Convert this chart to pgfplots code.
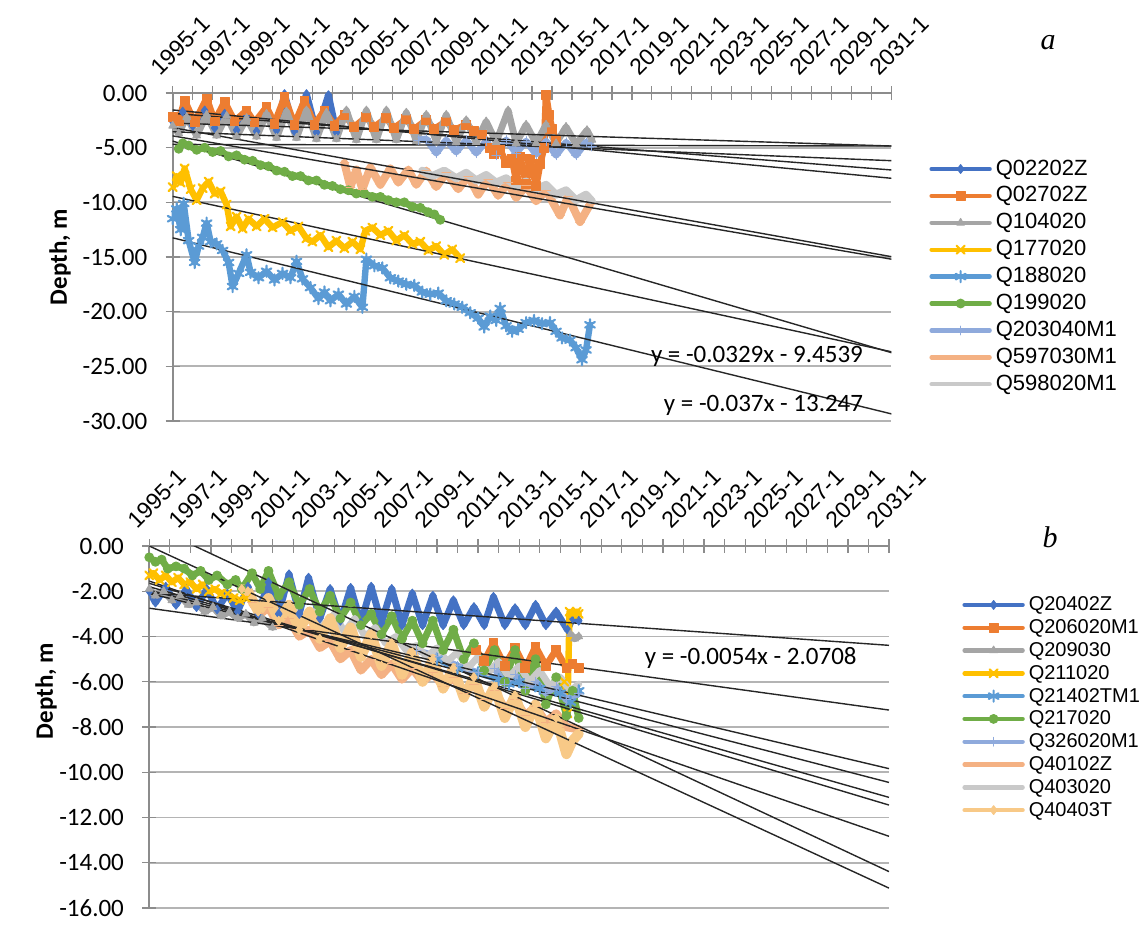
\documentclass[border=0pt]{standalone}
\usepackage{pgfplots}
\pgfplotsset{compat=1.18}
\usepackage{fontspec}
\setmainfont{Carlito}
\newfontfamily\arial{Liberation Sans}
\newfontfamily\serifit{Liberation Serif}
\definecolor{axgray}{HTML}{8C8C8C}
\definecolor{gridgray}{HTML}{B4B4B4}
\definecolor{s1}{HTML}{4472C4}
\definecolor{s2}{HTML}{ED7D31}
\definecolor{s3}{HTML}{A5A5A5}
\definecolor{s4}{HTML}{FFC000}
\definecolor{s5}{HTML}{5B9BD5}
\definecolor{s6}{HTML}{70AD47}
\definecolor{s7}{HTML}{8FAADC}
\definecolor{s8}{HTML}{F4B183}
\definecolor{s9}{HTML}{C9C9C9}
\definecolor{s10}{HTML}{F8C987}
\pgfplotsset{
  excel/.style={
    scale only axis,
    xmin=1995, xmax=2031,
    axis x line*=top, axis y line*=left,
    axis line style={draw=axgray, line width=0.8pt},
    xtick={1995,1997,...,2031},
    minor xtick={1996,1998,...,2030},
    xticklabels={1995-1,1997-1,1999-1,2001-1,2003-1,2005-1,2007-1,2009-1,2011-1,2013-1,2015-1,2017-1,2019-1,2021-1,2023-1,2025-1,2027-1,2029-1,2031-1},
    tick align=center,
    major tick length=7pt, minor tick length=7pt,
    tick style={draw=axgray, line width=0.6pt},
    ymajorgrids,
    major grid style={draw=gridgray, line width=0.9pt},
    /pgf/number format/assume math mode=true,
    xticklabel style={font=\arial\fontsize{11.5}{13}\selectfont, rotate=45, anchor=south west, inner sep=0pt, text depth=0pt, xshift=-1pt, yshift=7.5pt},
    yticklabel style={font=\fontsize{12.5}{15}\selectfont, anchor=east, inner sep=0pt, xshift=-9pt, /pgf/number format/.cd, fixed, fixed zerofill, precision=2},
    ylabel={Depth, m},
    ylabel style={font=\bfseries\fontsize{12.5}{15}\selectfont},
    unbounded coords=jump,
    legend cell align=left,
    legend image code/.code={\draw[line width=2.2pt, mark repeat=2, mark phase=2] plot coordinates {(0pt,0pt) (14.5pt,0pt) (29pt,0pt)};},
  },
  ser/.style={line width=3.4pt, line join=round, line cap=round, mark size=2.2pt, mark options={solid, line width=0.5pt}},
  serx/.style={line width=3.2pt, line join=round, line cap=round, mark size=2.8pt, mark options={solid, line width=1.1pt}},
  tr/.style={black!85, line width=0.7pt, forget plot, no marks},
}
\begin{document}
\begin{tikzpicture}
\useasboundingbox (0,0) rectangle (573.5pt,-463.5pt);
% ---------------- panel a ----------------
\begin{axis}[excel,
  at={(86.35pt,-210.5pt)}, anchor=south west,
  width=359.4pt, height=164pt,
  ymin=-30, ymax=0, ytick={-30,-25,-20,-15,-10,-5,0},
  ylabel style={at={(axis description cs:-0.1568,0.5)}, anchor=center},
  legend style={at={(axis description cs:1.0522,0.803)}, anchor=north west, draw=none, fill=none, inner sep=0pt, column sep=2pt,
    font=\arial\fontsize{11}{13}\selectfont, row sep=2.45pt, nodes={inner sep=0pt, text height=8.5pt, text depth=2.5pt}},
]
\addplot[ser, s1, mark=diamond*] coordinates {(1995.0,-2.6) (1995.5,-1.7) (1996.0,-3.0) (1996.6,-1.6) (1997.1,-3.2) (1997.6,-1.9) (1998.2,-3.4) (1998.7,-2.0) (1999.2,-3.5) (1999.7,-1.6) (2000.2,-3.4) (2000.6,-0.1) (2001.1,-3.5) (2001.7,-0.1) (2002.2,-3.6) (2002.8,-0.2) (2003.2,-3.6)};
\addlegendentry{Q02202Z}
\addplot[ser, s2, mark=square*] coordinates {(1995.0,-2.2) (1995.3,-2.6) (1995.6,-0.7) (1996.1,-2.7) (1996.7,-0.5) (1997.1,-2.6) (1997.6,-0.8) (1998.1,-2.6) (1998.7,-1.6) (1999.1,-2.7) (1999.7,-1.3) (2000.1,-2.8) (2000.6,-0.4) (2001.1,-2.9) (2001.6,-0.7) (2002.1,-2.9) (2002.6,-1.6) (2003.1,-3.0) (2003.6,-2.0) (2004.1,-3.1) (2004.7,-2.2) (2005.1,-3.1) (2005.7,-2.3) (2006.1,-3.2) (2006.7,-2.4) (2007.1,-3.3) (2007.7,-2.5) (2008.1,-3.3) (2008.7,-2.6) (2009.1,-3.4) (2009.7,-2.9) (2010.1,-3.5) (2010.5,-3.8) (2010.9,-5.0) (2011.1,-5.6) (2011.4,-5.2) (2011.7,-6.4) (2012.0,-6.0) (2012.2,-8.0) (2012.4,-5.8) (2012.7,-8.3) (2012.9,-6.0) (2013.2,-8.5) (2013.4,-6.5) (2013.6,-5.0) (2013.7,-0.2) (2013.85,-2.0) (2014.0,-3.3) (2014.2,-4.4)};
\addlegendentry{Q02702Z}
\addplot[ser, s3, mark=triangle*] coordinates {(1995.0,-3.0) (1995.3,-3.7) (1995.7,-2.2) (1996.2,-3.9) (1996.7,-2.0) (1997.2,-3.9) (1997.7,-2.1) (1998.2,-4.0) (1998.7,-2.3) (1999.2,-4.0) (1999.7,-1.9) (2000.2,-4.1) (2000.7,-1.7) (2001.2,-4.1) (2001.7,-1.6) (2002.2,-4.2) (2002.7,-1.8) (2003.2,-4.2) (2003.7,-1.6) (2004.2,-4.3) (2004.7,-1.6) (2005.2,-4.3) (2005.7,-1.6) (2006.2,-4.3) (2006.7,-1.8) (2007.2,-4.4) (2007.7,-2.0) (2008.2,-4.4) (2008.7,-2.0) (2009.2,-4.5) (2009.7,-2.5) (2010.2,-4.5) (2010.7,-2.6) (2011.2,-4.5) (2011.8,-1.6) (2012.2,-4.6) (2012.7,-2.9) (2013.2,-4.6) (2013.7,-2.9) (2014.2,-4.6) (2014.7,-3.1) (2015.2,-4.7) (2015.75,-3.4) (2016.0,-4.3)};
\addlegendentry{Q104020}
\addplot[serx, s4, mark=x] coordinates {(1995.0,-8.6) (1995.2,-7.6) (1995.4,-8.2) (1995.6,-6.9) (1995.9,-8.8) (1996.2,-9.8) (1996.5,-8.7) (1996.8,-8.1) (1997.1,-9.2) (1997.4,-9.0) (1997.7,-10.2) (1997.9,-12.2) (1998.2,-11.3) (1998.5,-12.4) (1998.8,-11.5) (1999.2,-12.2) (1999.6,-11.5) (2000.0,-12.3) (2000.5,-11.8) (2000.9,-12.6) (2001.3,-12.2) (2001.7,-13.3) (2002.0,-13.6) (2002.4,-13.0) (2002.8,-14.1) (2003.2,-13.5) (2003.6,-14.2) (2004.0,-13.6) (2004.4,-14.3) (2004.65,-12.6) (2005.0,-12.3) (2005.4,-13.0) (2005.8,-12.6) (2006.2,-13.5) (2006.6,-13.0) (2007.0,-13.8) (2007.4,-13.6) (2007.8,-14.4) (2008.2,-14.0) (2008.6,-14.8) (2009.0,-14.3) (2009.4,-15.1)};
\addlegendentry{Q177020}
\addplot[serx, s5, mark=asterisk] coordinates {(1995.0,-11.5) (1995.2,-10.6) (1995.4,-12.5) (1995.55,-10.1) (1995.8,-13.5) (1996.1,-15.5) (1996.3,-14.0) (1996.5,-13.2) (1996.7,-11.9) (1996.9,-13.6) (1997.2,-13.8) (1997.5,-14.4) (1997.8,-15.5) (1998.0,-17.7) (1998.3,-16.5) (1998.7,-14.8) (1998.9,-16.4) (1999.3,-16.9) (1999.7,-16.3) (2000.1,-17.1) (2000.5,-16.5) (2000.9,-16.9) (2001.2,-15.4) (2001.5,-17.0) (2001.9,-17.8) (2002.3,-18.8) (2002.6,-18.2) (2002.9,-19.0) (2003.3,-18.4) (2003.7,-19.3) (2004.1,-18.6) (2004.5,-19.6) (2004.7,-15.2) (2005.1,-15.8) (2005.5,-16.0) (2005.9,-16.9) (2006.3,-17.2) (2006.7,-17.5) (2007.1,-17.6) (2007.5,-18.2) (2007.9,-18.4) (2008.3,-18.3) (2008.7,-19.0) (2009.1,-19.3) (2009.5,-19.6) (2009.9,-20.1) (2010.3,-20.6) (2010.6,-21.4) (2010.9,-20.4) (2011.2,-20.8) (2011.4,-19.7) (2011.7,-21.3) (2012.0,-21.8) (2012.3,-21.6) (2012.7,-21.0) (2013.1,-20.8) (2013.5,-21.1) (2013.9,-21.0) (2014.2,-21.8) (2014.5,-22.4) (2014.9,-22.6) (2015.2,-23.3) (2015.5,-24.4) (2015.7,-23.5) (2015.9,-21.2)};
\addlegendentry{Q188020}
\addplot[ser, s6, mark=*] coordinates {(1995.3,-5.1) (1995.5,-4.6) (1995.8,-4.8) (1996.2,-5.2) (1996.6,-5.0) (1997.0,-5.4) (1997.4,-5.3) (1997.8,-5.8) (1998.2,-5.7) (1998.6,-6.1) (1999.0,-6.2) (1999.4,-6.6) (1999.8,-6.7) (2000.2,-7.1) (2000.6,-7.2) (2001.0,-7.6) (2001.4,-7.6) (2001.8,-8.0) (2002.2,-8.0) (2002.6,-8.4) (2003.0,-8.5) (2003.4,-8.8) (2003.8,-8.9) (2004.2,-9.2) (2004.6,-9.2) (2005.0,-9.5) (2005.4,-9.5) (2005.8,-9.8) (2006.2,-10.0) (2006.6,-10.0) (2007.0,-10.4) (2007.4,-10.5) (2007.8,-10.9) (2008.1,-11.1) (2008.4,-11.6)};
\addlegendentry{Q199020}
\addplot[ser, s7, mark=+] coordinates {(2007.3,-4.3) (2007.7,-4.2) (2008.2,-5.5) (2008.7,-4.3) (2009.2,-5.4) (2009.7,-4.3) (2010.2,-5.5) (2010.7,-4.4) (2011.2,-5.7) (2011.7,-4.3) (2012.2,-5.5) (2012.7,-4.4) (2013.2,-5.6) (2013.7,-4.4) (2014.2,-5.7) (2014.7,-4.5) (2015.2,-5.7) (2015.7,-4.5) (2016.0,-4.9)};
\addlegendentry{Q203040M1}
\addplot[ser, s8, mark=-, line width=4pt] coordinates {(2003.6,-6.4) (2003.9,-8.6) (2004.2,-7.0) (2004.5,-8.8) (2004.9,-6.8) (2005.4,-8.4) (2005.9,-6.9) (2006.3,-8.2) (2006.8,-7.0) (2007.2,-8.4) (2007.7,-7.1) (2008.2,-8.6) (2008.7,-7.3) (2009.3,-8.8) (2009.8,-7.6) (2010.3,-9.3) (2010.8,-7.9) (2011.3,-9.4) (2011.8,-8.2) (2012.2,-9.6) (2012.7,-8.5) (2013.2,-9.9) (2013.7,-8.9) (2014.4,-11.2) (2014.8,-9.5) (2015.4,-11.8) (2015.9,-10.2)};
\addlegendentry{Q597030M1}
\addplot[ser, s9, no marks, line width=4pt] coordinates {(2007.5,-7.1) (2008.0,-7.6) (2008.6,-7.1) (2009.2,-7.8) (2009.7,-7.3) (2010.2,-8.0) (2010.7,-7.5) (2011.2,-8.2) (2011.7,-7.8) (2012.2,-8.5) (2012.7,-8.1) (2013.2,-8.8) (2013.7,-8.4) (2014.2,-9.3) (2014.7,-8.9) (2015.2,-9.8) (2015.7,-9.3) (2016.0,-9.9)};
\addlegendentry{Q598020M1}
% trend lines
\addplot[tr] coordinates {(1995,-1.55) (2031,-7.8)};
\addplot[tr] coordinates {(1995,-1.86) (2031,-7.04)};
\addplot[tr] coordinates {(1995,-2.75) (2031,-4.85)};
\addplot[tr] coordinates {(1995,-3.17) (2031,-14.97)};
\addplot[tr] coordinates {(1995,-3.54) (2031,-6.19)};
\addplot[tr] coordinates {(1995,-3.92) (2031,-15.2)};
\addplot[tr] coordinates {(1995,-4.4) (2031,-23.75)};
\addplot[tr] coordinates {(1995,-4.7) (2031,-4.85)};
\addplot[tr] coordinates {(1995,-9.4539) (2031,-23.67)};
\addplot[tr] coordinates {(1995,-13.247) (2031,-29.35)};
\node[font=\fontsize{12.5}{15}\selectfont, anchor=base, inner sep=0pt] at (axis cs:2024.26,-24.66) {y = -0.0329x - 9.4539};
\node[font=\fontsize{12.5}{15}\selectfont, anchor=base, inner sep=0pt] at (axis cs:2024.59,-29.1) {y = -0.037x - 13.247};
\end{axis}
% ---------------- panel b ----------------
\begin{axis}[excel,
  at={(74.65pt,-454pt)}, anchor=south west,
  width=369.85pt, height=181pt,
  ymin=-16, ymax=0, ytick={-16,-14,-12,-10,-8,-6,-4,-2,0},
  ylabel style={at={(axis description cs:-0.1397,0.5994)}, anchor=center},
  legend style={at={(axis description cs:1.0987,0.866)}, anchor=north west, draw=none, fill=none, inner sep=0pt, column sep=2pt,
    font=\arial\fontsize{10}{12}\selectfont, row sep=1.4pt, nodes={inner sep=0pt, text height=8pt, text depth=2pt}},
]
\addplot[ser, s1, mark=diamond*] coordinates {(1995.0,-2.0) (1995.3,-2.5) (1995.8,-1.8) (1996.3,-2.6) (1996.8,-1.9) (1997.3,-2.7) (1997.8,-1.9) (1998.3,-2.8) (1998.8,-2.1) (1999.3,-2.9) (1999.8,-1.8) (2000.3,-3.0) (2000.8,-1.6) (2001.3,-3.0) (2001.8,-1.25) (2002.3,-3.0) (2002.75,-1.4) (2003.3,-3.2) (2003.8,-1.9) (2004.3,-3.3) (2004.8,-1.85) (2005.3,-3.4) (2005.8,-1.8) (2006.3,-3.4) (2006.8,-1.9) (2007.3,-3.5) (2007.8,-2.1) (2008.3,-3.5) (2008.8,-2.2) (2009.3,-3.5) (2009.8,-2.4) (2010.3,-3.5) (2010.8,-2.7) (2011.3,-3.5) (2011.75,-2.25) (2012.3,-3.5) (2012.8,-2.75) (2013.3,-3.5) (2013.8,-2.6) (2014.3,-3.5) (2014.8,-2.9) (2015.35,-3.7) (2015.6,-3.2) (2015.9,-3.3)};
\addlegendentry{Q20402Z}
\addplot[ser, s2, mark=square*] coordinates {(2010.9,-4.6) (2011.3,-5.1) (2011.75,-4.3) (2012.3,-5.3) (2012.8,-4.5) (2013.3,-5.4) (2013.8,-4.45) (2014.3,-5.3) (2014.8,-4.6) (2015.3,-5.4) (2015.6,-5.2) (2015.9,-5.4)};
\addlegendentry{Q206020M1}
\addplot[ser, s3, mark=triangle*] coordinates {(1995.0,-1.9) (1995.3,-2.2) (1995.7,-2.0) (1996.1,-2.4) (1996.5,-2.2) (1996.9,-2.6) (1997.3,-2.5) (1997.7,-2.9) (1998.1,-2.7) (1998.5,-3.1) (1998.9,-2.9) (1999.3,-3.2) (1999.7,-3.0) (2000.1,-3.4) (2000.5,-3.2) (2001.0,-3.6) (2001.5,nan) (2015.5,-3.9) (2015.7,-4.1) (2015.9,-4.0)};
\addlegendentry{Q209030}
\addplot[serx, s4, mark=x] coordinates {(1995.0,-1.3) (1995.2,-1.2) (1995.5,-1.5) (1995.8,-1.3) (1996.1,-1.6) (1996.4,-1.4) (1996.7,-1.7) (1997.0,-1.6) (1997.3,-1.9) (1997.6,-1.7) (1997.9,-2.0) (1998.2,-1.9) (1998.5,-2.1) (1998.8,-2.1) (1999.1,-2.3) (1999.4,-2.4) (1999.7,-2.3) (2000.0,nan) (2015.2,-6.0) (2015.35,-7.4) (2015.45,-2.9) (2015.6,-3.0) (2015.8,-2.9) (2015.9,-3.0)};
\addlegendentry{Q211020}
\addplot[serx, s5, mark=asterisk] coordinates {(2009.0,-5.0) (2010.0,-5.4) (2011.0,-5.6) (2012.0,-5.9) (2012.5,-6.1) (2013.0,-6.0) (2014.0,-6.3) (2015.0,-6.5) (2015.5,-6.9) (2015.9,-6.4)};
\addlegendentry{Q21402TM1}
\addplot[ser, s6, mark=*] coordinates {(1995.0,-0.5) (1995.3,-0.7) (1995.6,-0.6) (1995.9,-1.0) (1996.3,-0.9) (1996.7,-1.0) (1997.1,-1.3) (1997.5,-1.1) (1997.9,-1.5) (1998.3,-1.3) (1998.8,-1.7) (1999.2,-1.5) (1999.5,-1.9) (2000.0,-1.2) (2000.4,-1.9) (2000.8,-1.1) (2001.3,-2.2) (2001.8,-1.6) (2002.3,-2.6) (2002.8,-1.9) (2003.3,-2.9) (2003.8,-2.2) (2004.3,-3.2) (2004.8,-2.5) (2005.3,-3.5) (2005.8,-3.0) (2006.3,-3.9) (2006.8,-3.1) (2007.3,-4.1) (2007.8,-3.3) (2008.3,-4.3) (2008.8,-3.3) (2009.3,-4.6) (2009.8,-3.7) (2010.3,-5.0) (2010.8,-4.3) (2011.3,-5.5) (2011.8,-4.6) (2012.3,-6.0) (2012.8,-4.6) (2013.3,-6.4) (2013.8,-5.0) (2014.3,-7.0) (2014.8,-5.8) (2015.3,-7.5) (2015.6,-6.4) (2015.9,-7.6)};
\addlegendentry{Q217020}
\addplot[ser, s7, mark=+] coordinates {(2008.0,-4.6) (2009.0,-4.9) (2010.0,-5.3) (2011.0,-5.6) (2011.8,-5.4) (2012.3,-6.1) (2012.8,-5.7) (2013.3,-6.3) (2013.8,-6.0) (2014.3,-6.5) (2014.8,-6.2) (2015.3,-6.8) (2015.9,-6.5)};
\addlegendentry{Q326020M1}
\addplot[ser, s8, mark=-, line width=4.2pt] coordinates {(2000.0,-2.5) (2000.4,-3.0) (2000.8,-2.7) (2001.3,-3.5) (2001.8,-3.2) (2002.3,-4.0) (2002.8,-3.7) (2003.3,-4.5) (2003.8,-4.2) (2004.3,-5.0) (2004.8,-4.6) (2005.3,-5.5) (2005.8,-5.0) (2006.3,-5.7) (2006.8,-5.2) (2007.3,-5.9) (2007.8,-5.4) (2008.3,-6.0) (2008.8,-5.6) (2009.3,-6.2) (2009.8,-5.8) (2010.3,-6.5) (2010.8,-6.1) (2011.3,-6.8) (2011.8,-6.4) (2012.3,-7.2) (2012.8,-6.8) (2013.3,-7.5) (2013.8,-7.1) (2014.3,-7.8) (2014.8,-7.4) (2015.3,-8.0) (2015.9,-8.1)};
\addlegendentry{Q40102Z}
\addplot[ser, s9, no marks] coordinates {(2002.0,-2.8) (2002.5,-3.3) (2003.0,-2.9) (2003.5,-3.6) (2004.0,-3.0) (2004.5,-3.8) (2005.0,-3.2) (2005.5,-4.0) (2006.0,-3.6) (2006.5,-4.3) (2007.0,-4.0) (2007.5,-4.6) (2008.0,-4.4) (2008.5,-4.9) (2009.0,-4.5) (2009.5,-5.1) (2010.0,-4.7) (2010.5,-5.4) (2011.0,-4.9) (2011.5,-5.6) (2012.0,-5.1) (2012.5,-5.8) (2013.0,-5.3) (2013.5,-6.0) (2014.0,-5.5) (2014.5,-6.2) (2015.0,-5.8) (2015.5,-6.4) (2015.9,-6.1)};
\addlegendentry{Q403020}
\addplot[ser, s10, mark=diamond*, line width=5pt] coordinates {(1999.5,-1.9) (1999.8,-2.0) (2000.3,-2.9) (2000.8,-2.3) (2001.3,-3.3) (2001.8,-2.6) (2002.3,-3.7) (2002.8,-2.9) (2003.3,-4.1) (2003.8,-3.2) (2004.3,-4.5) (2004.8,-3.6) (2005.3,-4.9) (2005.8,-3.9) (2006.3,-5.3) (2006.8,-4.3) (2007.3,-5.7) (2007.8,-4.7) (2008.3,-6.0) (2008.8,-5.0) (2009.3,-6.3) (2009.8,-5.4) (2010.3,-6.7) (2010.8,-5.8) (2011.3,-7.1) (2011.8,-6.2) (2012.3,-7.6) (2012.8,-6.6) (2013.3,-8.0) (2013.8,-7.0) (2014.3,-8.5) (2014.8,-7.6) (2015.3,-9.2) (2015.6,-8.6) (2015.9,-8.3)};
\addlegendentry{Q40403T}
% trend lines
\addplot[tr] coordinates {(1995,0.94) (2031,-14.39)};
\addplot[tr] coordinates {(1995,0.0) (2031,-15.12)};
\addplot[tr] coordinates {(1995,-1.55) (2031,-12.83)};
\addplot[tr] coordinates {(1995,-1.65) (2031,-11.45)};
\addplot[tr] coordinates {(1995,-1.8) (2031,-11.11)};
\addplot[tr] coordinates {(1995,-1.95) (2031,-10.45)};
\addplot[tr] coordinates {(1995,-2.1) (2031,-9.84)};
\addplot[tr] coordinates {(1995,-2.0708) (2031,-4.39)};
\addplot[tr] coordinates {(1995,-2.75) (2031,-7.25)};
\node[font=\fontsize{12.5}{15}\selectfont, anchor=base, inner sep=0pt] at (axis cs:2024.27,-5.256) {y = -0.0054x - 2.0708};
\end{axis}
\node[font=\serifit\itshape\fontsize{15}{18}\selectfont] at (524pt,-21.5pt) {a};
\node[font=\serifit\itshape\fontsize{15}{18}\selectfont] at (525pt,-268.5pt) {b};
\end{tikzpicture}
\end{document}
